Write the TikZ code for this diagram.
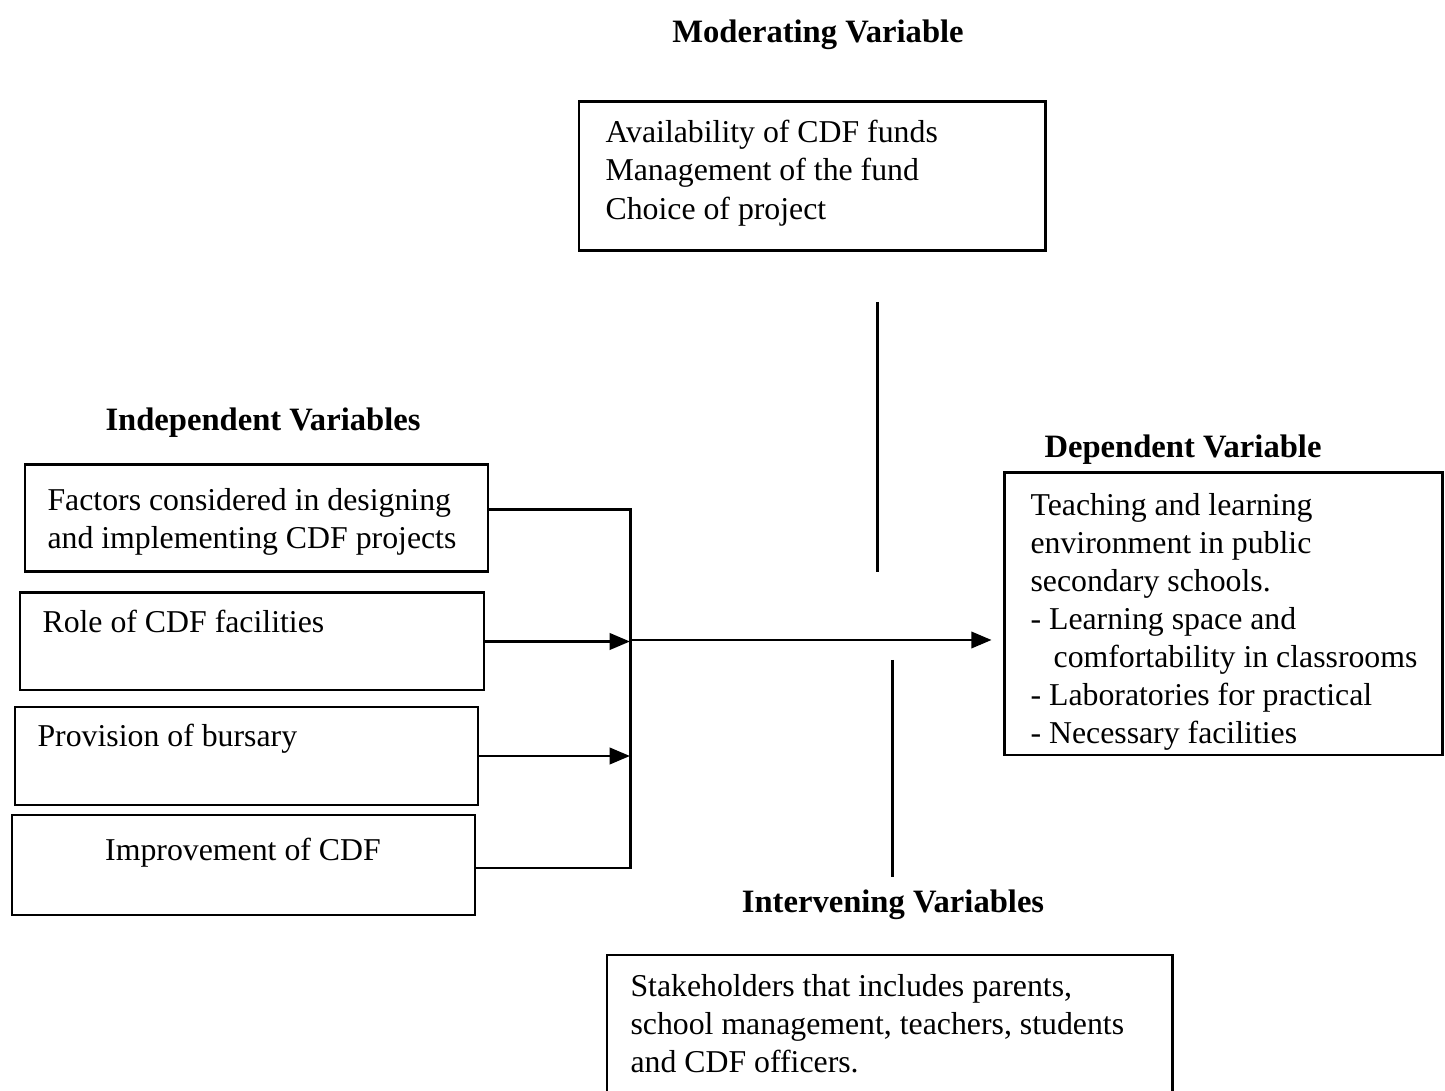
\documentclass[tikz,border=0pt]{standalone}
\usepackage{fontspec}
\setmainfont{Liberation Serif}
\usetikzlibrary{arrows.meta,fit}

\begin{document}
\begin{tikzpicture}[x=0.368pt,y=-0.368pt,
	box/.style={draw, line width=1.1pt, inner sep=0pt},
	txt/.style={anchor=north west, inner sep=0pt, align=left, font=\fontsize{11.7}{14}\selectfont},
	hd/.style={inner sep=0pt, font=\fontsize{12}{14}\selectfont\bfseries},
	link/.style={line width=1.1pt},
	arr/.style={line width=1.1pt, -{Triangle[length=7.5pt,width=6pt]}}]
	\useasboundingbox (0,0) rectangle (1445,1091);

	% headings
	\node[hd] (modhd) at (818,35) {Moderating Variable};
	\node[hd] (indhd) at (263,423) {Independent Variables};
	\node[hd] (dephd) at (1183,450) {Dependent Variable};
	\node[hd] (inthd) at (893,905) {Intervening Variables};

	% boxes
	\node[box, fit={(579,102) (1045,251)}] (mod) {};
	\node[txt] (modtxt) at (605,120) {Availability of CDF funds\\Management of the fund\\Choice of project};

	\node[box, fit={(25,465) (488,572)}] (fac) {};
	\node[txt] (factxt) at (47,488) {Factors considered in designing\\and implementing CDF projects};
	\node[box, fit={(20,593) (484,690)}] (role) {};
	\node[txt] (roletxt) at (42,610) {Role of CDF facilities};
	\node[box, fit={(15,707) (478,805)}] (burs) {};
	\node[txt] (burstxt) at (37,724) {Provision of bursary};
	\node[box, fit={(12,815) (475,915)}] (imp) {};
	\node[txt, anchor=north] (imptxt) at (243,838) {Improvement of CDF};

	\node[box, fit={(1004,473) (1442,755)}] (dep) {};
	\node[txt] (deptxt) at (1030,493) {Teaching and learning\\environment in public\\secondary schools.\\- Learning space and\\\hspace*{8.5pt}comfortability in classrooms\\- Laboratories for practical\\- Necessary facilities};

	\node[box, fit={(607,955) (1172,1100)}] (int) {};
	\node[txt] (inttxt) at (630,974) {Stakeholders that includes parents,\\school management, teachers, students\\and CDF officers.};

	% connectors
	\coordinate (jt) at (630,510);
	\coordinate (jm) at (630,640);
	\coordinate (jb) at (630,868);
	\draw[link] (fac.east |- jt) -- (jt) -- (jb) -- (imp.east |- jb);
	\draw[arr] (role.east) -- (role.east -| jm);
	\draw[arr] (burs.east) -- (burs.east -| jm);
	\draw[arr, shorten >=4pt] (jm) -- (dep.west |- jm);
	\coordinate (mt) at (877,302);
	\coordinate (mb) at (877,572);
	\draw[link] (mt) -- (mb);
	\coordinate (it) at (892,660);
	\coordinate (ib) at (892,877);
	\draw[link] (it) -- (ib);
\end{tikzpicture}
\end{document}
